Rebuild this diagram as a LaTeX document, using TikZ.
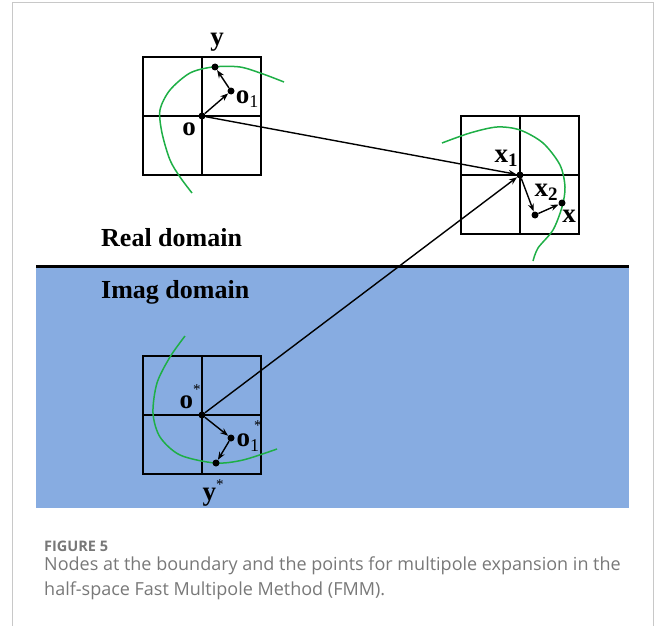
\documentclass[tikz,border=0pt]{standalone}
\usepackage{fontspec}
\setmainfont{Liberation Serif}
\newfontfamily\capfont{Open Sans}
\usepackage{tikz}
\usetikzlibrary{positioning}
\usetikzlibrary{arrows.meta}

\definecolor{imagblue}{RGB}{135,172,225}
\definecolor{curvegreen}{RGB}{30,175,70}
\definecolor{framegray}{RGB}{200,200,200}
\definecolor{capgray}{RGB}{120,120,120}

\tikzset{
    dot/.style={circle, fill=black, inner sep=0pt, minimum size=7pt},
    cell/.style={line width=1.8pt},
    vec/.style={line width=1.4pt, -{Stealth[length=8pt,width=6pt]}},
    bound/.style={curvegreen, line width=1.5pt},
    lbl/.style={font=\fontsize{27}{27}\selectfont\bfseries, inner sep=0pt},
    domainlbl/.style={font=\fontsize{26}{26}\selectfont\bfseries, inner sep=0pt, anchor=west}
}

\begin{document}
\begin{tikzpicture}[x=1pt,y=-1pt]
    \useasboundingbox (0,0) rectangle (656,626);
    % frame of the figure
    \draw[framegray, line width=1pt] (12,626) -- (12,3) -- (653,3) -- (653,626);

    % half spaces
    \fill[imagblue] (36,266) rectangle (629,508);
    \draw[line width=3pt] (36,266) -- (629,266);
    \node[domainlbl] (real) at (101,238) {Real domain};
    \node[domainlbl] (imag) at (101,292) {Imag domain};

    % source cell (real)
    \draw[cell] (143,57) rectangle (261,175);
    \draw[cell] (202,57) -- (202,175);
    \draw[cell] (143,116) -- (261,116);
    \draw[bound] plot[smooth] coordinates {(284,82) (263,74) (240,67) (213,67) (190,73) (170,90) (160,110) (162,133) (170,160) (180,177) (192,193)};

    % field cell
    \draw[cell] (461,116) rectangle (579,234);
    \draw[cell] (520,116) -- (520,234);
    \draw[cell] (461,175) -- (579,175);
    \draw[bound] plot[smooth] coordinates {(442,143) (470,133) (497,127) (520,130) (543,143) (560,165) (565,187) (562,207) (553,230) (538,248) (533,261)};

    % image cell
    \draw[cell] (143,356) rectangle (261,474);
    \draw[cell] (202,356) -- (202,474);
    \draw[cell] (143,415) -- (261,415);
    \draw[bound] plot[smooth] coordinates {(185,336) (170,357) (157,383) (153,413) (160,437) (180,455) (215,463) (243,460) (277,449)};

    % points
    \node[dot] (o) at (202,116) {};
    \node[dot] (o1) at (231,91) {};
    \node[dot] (y) at (215,67) {};
    \node[dot] (x1) at (520,175) {};
    \node[dot] (x2) at (535,215) {};
    \node[dot] (x) at (562,203) {};
    \node[dot] (os) at (202,415) {};
    \node[dot] (o1s) at (231,438) {};
    \node[dot] (ys) at (216,463) {};

    % vectors
    \draw[vec] (o) -- (o1);
    \draw[vec] (o1) -- (y);
    \draw[vec] (o) -- (x1);
    \draw[vec] (os) -- (x1);
    \draw[vec] (x1) -- (x2);
    \draw[vec] (x2) -- (x);
    \draw[vec] (os) -- (o1s);
    \draw[vec] (o1s) -- (ys);

    % labels
    \node[lbl] (ylbl) at (217,42) {y};
    \node[lbl] (o1lbl) at (247,99) {o\raisebox{-0.35ex}{\fontsize{18}{18}\mdseries 1}};
    \node[lbl] (olbl) at (189,129) {o};
    \node[lbl] (x1lbl) at (506,158) {x\raisebox{-0.3ex}{\fontsize{19}{19}\selectfont 1}};
    \node[lbl] (x2lbl) at (546,192) {x\raisebox{-0.3ex}{\fontsize{19}{19}\selectfont 2}};
    \node[lbl] (xlbl) at (569,216) {x};
    \node[lbl] (oslbl) at (190,397) {o\raisebox{1.1ex}{\fontsize{15}{15}\mdseries *}};
    \node[lbl] (o1slbl) at (249,436) {o\raisebox{-0.35ex}{\fontsize{18}{18}\mdseries 1}\hspace{-5pt}\raisebox{1.3ex}{\fontsize{15}{15}\mdseries *}};
    \node[lbl] (yslbl) at (213,493) {y\raisebox{0.9ex}{\fontsize{15}{15}\mdseries *}};

    % caption
    \node[font=\capfont\bfseries\fontsize{14.5}{14.5}\selectfont, text=capgray, anchor=west, inner sep=0pt] (figno) at (44,546) {FIGURE 5};
    \node[font=\capfont\fontsize{18}{25}\selectfont, text=capgray, anchor=north west, inner sep=0pt, align=left] (cap) at (44,557) {Nodes at the boundary and the points for multipole expansion in the\\half-space Fast Multipole Method (FMM).};
\end{tikzpicture}
\end{document}
